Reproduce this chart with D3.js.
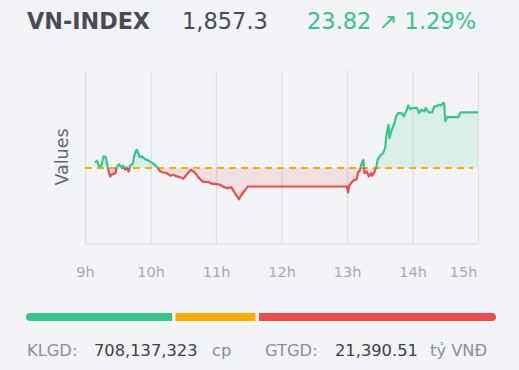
<!DOCTYPE html>
<html><head><meta charset="utf-8">
<script src="https://cdn.jsdelivr.net/npm/d3@7"></script>
<style>
html,body{margin:0;padding:0;background:#f3f4f8;}
svg{display:block;font-family:"DejaVu Sans",sans-serif;}
</style></head><body>
<svg id="c" width="519" height="370"></svg>
<script>
const indexName = "VN-INDEX";
const lastValue = 1857.3;
const change = 23.82;
const changePct = 1.29;
const times = ["09:09","09:11","09:13","09:15","09:17","09:19","09:21","09:23","09:25","09:28","09:29","09:31","09:34","09:35","09:37","09:38","09:40","09:41","09:44","09:45","09:47","09:48","09:50","09:52","09:55","09:58","10:01","10:04","10:06","10:09","10:12","10:15","10:18","10:21","10:24","10:27","10:30","10:33","10:37","10:41","10:45","10:48","10:53","10:56","11:01","11:04","11:07","11:11","11:14","11:17","11:21","11:24","11:27","11:29","11:30",
"13:00","13:01","13:02","13:04","13:06","13:09","13:10","13:12","13:13","13:15","13:16","13:18","13:20","13:22","13:23","13:25","13:27","13:28","13:30","13:33","13:35","13:36","13:38","13:39","13:41","13:43","13:45","13:47","13:50","13:52","13:55","13:56","13:58","14:01","14:04","14:06","14:08","14:11","14:12","14:15","14:18","14:20","14:22","14:24","14:26","14:28","14:29","14:30","14:32","14:42","14:44","15:00"];
const values = [1835.9,1836.6,1834.2,1834.5,1838.5,1838.2,1833.5,1829.9,1830.9,1831.3,1833.9,1835.2,1833.5,1834.5,1832.8,1833.9,1832.0,1834.2,1835.6,1838.5,1841.3,1841.0,1838.2,1838.5,1837.3,1836.7,1835.9,1834.9,1833.9,1832.0,1831.6,1831.3,1830.2,1830.6,1829.9,1829.6,1828.9,1830.6,1832.8,1831.3,1828.9,1827.7,1827.5,1826.8,1826.6,1826.3,1825.3,1824.9,1825.3,1823.0,1820.2,1822.5,1824.2,1825.6,1825.6,
1825.6,1823.0,1825.9,1827.3,1828.2,1828.8,1831.3,1832.8,1834.9,1837.0,1831.3,1832.0,1829.9,1831.3,1830.2,1831.6,1834.2,1837.0,1838.5,1839.9,1842.1,1847.0,1852.0,1846.3,1849.9,1852.0,1855.6,1857.0,1857.0,1855.6,1858.5,1860.2,1858.8,1859.2,1859.2,1857.0,1858.5,1857.7,1859.2,1857.3,1857.3,1859.9,1859.9,1860.6,1860.2,1861.3,1861.3,1853.5,1855.3,1855.3,1857.3,1857.3];
const hourTicks = ["09:00","10:00","11:00","12:00","13:00","14:00","15:00"];
const breadthLabels = ["up","unchanged","down"];
const breadthCounts = [146, 80, 237];
const volumeLabel = "KLGD:", volumeValue = "708,137,323", volumeUnit = "cp";
const turnoverLabel = "GTGD:", turnoverValue = "21,390.51", turnoverUnit = "tỷ VNĐ";

const GREEN = "#37c68a", RED = "#ee4b4b", ORANGE = "#ffab00";
const refValue = lastValue - change;
const parse = d3.timeParse("%H:%M");
const data = times.map((t,i)=>({t:parse(t), v:values[i]}));

const svg = d3.select("#c");
const L = 85, R = 478, T = 71, B = 244;
const x = d3.scaleTime().domain([parse("09:00"), parse("15:00")]).range([L, R]);
const y = d3.scaleLinear().domain([1801, 1875]).range([B, T]);
const yRef = y(refValue);

// header
const hdr = svg.append("g");
hdr.append("text").attr("x",27).attr("y",29).attr("font-size",22.3).attr("font-weight",700).attr("fill","#4a4a56").text(indexName);
hdr.append("text").attr("x",182).attr("y",29).attr("font-size",22.5).attr("fill","#4a4a56").text(d3.format(",.1f")(lastValue));
hdr.append("text").attr("x",307).attr("y",29).attr("font-size",22.5).attr("fill",GREEN)
  .text(d3.format(".2f")(change) + " \u2197 " + d3.format(".2f")(changePct) + "%");

// grid + axis
const ax = svg.append("g").attr("transform",`translate(0,${B})`)
  .call(d3.axisBottom(x).tickValues(hourTicks.map(parse)).tickSize(-(B-T)).tickPadding(0)
    .tickFormat(d=>d.getHours()+"h"));
ax.select(".domain").remove();
ax.selectAll(".tick line").attr("stroke","#dedee4").attr("stroke-width",1.2);
ax.selectAll(".tick text").attr("font-size",14.5).attr("fill","#a9a9b2").attr("dy",0).attr("y",33)
  .attr("font-family","'DejaVu Sans',sans-serif")
  .attr("dx",(d,i,n)=> i===n.length-1 ? -15 : 0);
svg.append("line").attr("x1",L).attr("x2",R).attr("y1",B).attr("y2",B).attr("stroke","#dedee4").attr("stroke-width",1.2);

// y label
svg.append("text").attr("transform",`translate(68,157) rotate(-90)`).attr("text-anchor","middle")
  .attr("font-size",17.5).attr("fill","#66666f").text("Values");

// clips
const defs = svg.append("defs");
defs.append("clipPath").attr("id","above").append("rect").attr("x",L).attr("y",0).attr("width",R-L).attr("height",yRef);
defs.append("clipPath").attr("id","below").append("rect").attr("x",L).attr("y",yRef).attr("width",R-L).attr("height",370-yRef);

const area = d3.area().x(d=>x(d.t)).y0(yRef).y1(d=>y(d.v));
const line = d3.line().x(d=>x(d.t)).y(d=>y(d.v));

[["above",GREEN,"rgba(55,198,138,0.13)"],["below",RED,"rgba(238,75,75,0.12)"]].forEach(([id,c,f])=>{
  const g = svg.append("g").attr("clip-path",`url(#${id})`);
  g.append("path").datum(data).attr("d",area).attr("fill",f);
});
// reference dashed line
svg.append("line").attr("x1",L).attr("x2",R-5).attr("y1",yRef).attr("y2",yRef)
  .attr("stroke",ORANGE).attr("stroke-width",2).attr("stroke-dasharray","7,5");
[["above",GREEN],["below",RED]].forEach(([id,c])=>{
  const g = svg.append("g").attr("clip-path",`url(#${id})`);
  g.append("path").datum(data).attr("d",line).attr("fill","none").attr("stroke",c).attr("stroke-width",2.2).attr("stroke-linejoin","round");
});

// breadth bar
const barX0 = 26, barW = 470, gap = 3.5, barY = 313, barH = 8;
const total = d3.sum(breadthCounts);
const bw = d3.scaleLinear().domain([0,total]).range([0, barW - gap*(breadthCounts.length-1)]);
defs.append("clipPath").attr("id","barclip").append("rect").attr("x",barX0).attr("y",barY).attr("width",barW).attr("height",barH).attr("rx",4);
const bg = svg.append("g").attr("clip-path","url(#barclip)");
let acc = barX0;
const bcol = d3.scaleOrdinal().domain(breadthLabels).range([GREEN, ORANGE, RED]);
breadthCounts.forEach((c,i)=>{
  bg.append("rect").attr("x",acc).attr("y",barY).attr("width",bw(c)).attr("height",barH).attr("fill",bcol(breadthLabels[i]));
  acc += bw(c) + gap;
});

// footer
const ft = svg.append("g").attr("font-size",16.3);
const GRAY = "#8e8e98", DARK = "#3e3e48";
ft.append("text").attr("x",27).attr("y",356).attr("fill",GRAY).text(volumeLabel);
ft.append("text").attr("x",94).attr("y",356).attr("fill",DARK).text(volumeValue);
ft.append("text").attr("x",212).attr("y",356).attr("fill",GRAY).text(volumeUnit);
ft.append("text").attr("x",265).attr("y",356).attr("fill",GRAY).text(turnoverLabel);
ft.append("text").attr("x",335).attr("y",356).attr("fill",DARK).text(turnoverValue);
ft.append("text").attr("x",430).attr("y",356).attr("fill",GRAY).text(turnoverUnit);
</script>
</body></html>
